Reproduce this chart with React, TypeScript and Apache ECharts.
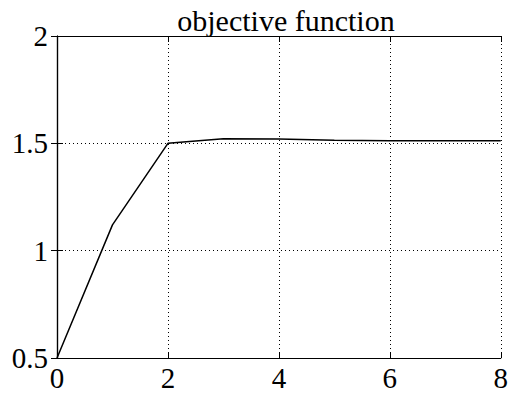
import React, { useEffect, useRef } from "react";
import * as echarts from "echarts";

const titleText = "objective function";
const iterations = [0, 1, 2, 3, 4, 5, 6, 7, 8];
const objectiveValues = [0.5, 1.12, 1.5, 1.521, 1.52, 1.514, 1.512, 1.512, 1.512];
const xRange = { min: 0, max: 8, interval: 2 };
const yRange = { min: 0.5, max: 2, interval: 0.5 };

const FONT = "'Liberation Serif', 'DejaVu Serif', serif";

export default function App() {
  const ref = useRef<HTMLDivElement>(null);

  useEffect(() => {
    if (!ref.current) return;
    const chart = echarts.init(ref.current, null, { renderer: "svg" });

    const tickStyle = { show: true, inside: true, length: 6, lineStyle: { color: "#000", width: 1 } };
    const lineStyle = { color: "#000", width: 1.2 };
    const grid = { show: true, lineStyle: { color: "#000", width: 1, type: [1, 3] as number[] } };

    chart.setOption({
      animation: false,
      backgroundColor: "#fff",
      title: {
        text: titleText,
        left: 281,
        textAlign: "center",
        top: 0,
        textStyle: { fontFamily: FONT, fontSize: 30, fontWeight: "normal", color: "#000" },
      },
      grid: { left: 57, right: 7, top: 36, bottom: 38, show: false },
      xAxis: [
        {
          type: "value",
          position: "bottom",
          ...xRange,
          axisLine: { show: true, lineStyle },
          axisTick: tickStyle,
          splitLine: grid,
          axisLabel: { fontFamily: FONT, fontSize: 29, color: "#000", margin: 5 },
        },
        {
          type: "value",
          position: "top",
          ...xRange,
          axisLine: { show: true, lineStyle },
          axisTick: tickStyle,
          splitLine: { show: false },
          axisLabel: { show: false },
        },
      ],
      yAxis: [
        {
          type: "value",
          position: "left",
          ...yRange,
          axisLine: { show: true, lineStyle },
          axisTick: tickStyle,
          splitLine: grid,
          axisLabel: { fontFamily: FONT, fontSize: 29, color: "#000", margin: 9 },
        },
        {
          type: "value",
          position: "right",
          ...yRange,
          axisLine: { show: true, lineStyle },
          axisTick: tickStyle,
          splitLine: { show: false },
          axisLabel: { show: false },
        },
      ],
      series: [
        {
          type: "line",
          data: iterations.map((x, i) => [x, objectiveValues[i]]),
          showSymbol: false,
          lineStyle: { color: "#000", width: 1.5 },
          itemStyle: { color: "#000" },
        },
      ],
    });

    return () => chart.dispose();
  }, []);

  return <div ref={ref} style={{ width: 511, height: 396, position: "fixed", left: 0, top: 0 }} />;
}
